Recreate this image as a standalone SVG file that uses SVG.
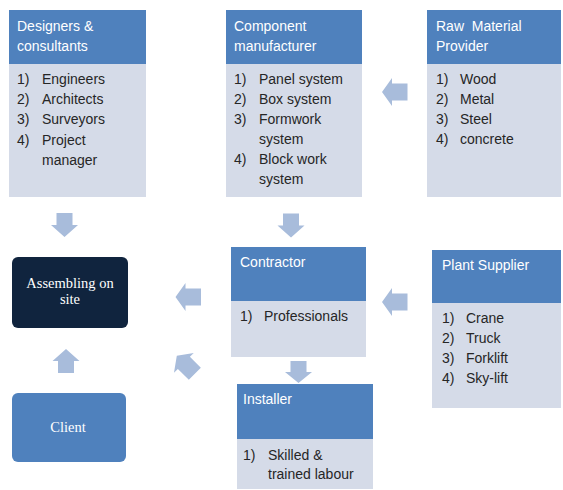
<svg xmlns="http://www.w3.org/2000/svg" width="563" height="490" viewBox="0 0 563 490">
<style>
.hd{fill:#4f81bd}
.bd{fill:#d5dbe8}
.ht{font-family:"Liberation Sans",Arial,sans-serif;font-size:14px;fill:#ffffff}
.it{font-family:"Liberation Sans",Arial,sans-serif;font-size:14px;fill:#262626}
.st{font-family:"Liberation Serif","Times New Roman",serif;font-size:14.5px;fill:#ffffff;text-anchor:middle}
.ar{fill:#a8bcdb}
</style>
<defs>
<path id="down" d="M-8,-12 H8 V0 H13.5 L0,12 L-13.5,0 H-8 Z"/>
<path id="left" d="M12.5,-8.5 V8.5 H-3 V14 L-13,0 L-3,-14 V-8.5 Z"/>
</defs>
<rect width="563" height="490" fill="#ffffff"/>
<g id="designers">
<rect class="bd" x="9" y="10" width="137" height="187"/>
<rect class="hd" x="9" y="10" width="137" height="54"/>
<text class="ht" x="17" y="31">Designers &amp;</text>
<text class="ht" x="17" y="51">consultants</text>
<text class="it" x="17" y="84">1)</text><text class="it" x="42" y="84">Engineers</text>
<text class="it" x="17" y="104">2)</text><text class="it" x="42" y="104">Architects</text>
<text class="it" x="17" y="124">3)</text><text class="it" x="42" y="124">Surveyors</text>
<text class="it" x="17" y="145">4)</text><text class="it" x="42" y="145">Project</text>
<text class="it" x="42" y="165">manager</text>
</g>
<g id="component">
<rect class="bd" x="226" y="10" width="136" height="187"/>
<rect class="hd" x="226" y="10" width="136" height="54"/>
<text class="ht" x="234" y="31">Component</text>
<text class="ht" x="234" y="51">manufacturer</text>
<text class="it" x="234" y="84">1)</text><text class="it" x="259" y="84">Panel system</text>
<text class="it" x="234" y="104">2)</text><text class="it" x="259" y="104">Box system</text>
<text class="it" x="234" y="124">3)</text><text class="it" x="259" y="124">Formwork</text>
<text class="it" x="259" y="144">system</text>
<text class="it" x="234" y="164">4)</text><text class="it" x="259" y="164">Block work</text>
<text class="it" x="259" y="184">system</text>
</g>
<g id="raw">
<rect class="bd" x="427" y="10" width="134" height="187"/>
<rect class="hd" x="427" y="10" width="134" height="54"/>
<text class="ht" x="436" y="31" style="white-space:pre">Raw  Material</text>
<text class="ht" x="436" y="51">Provider</text>
<text class="it" x="436" y="84">1)</text><text class="it" x="460" y="84">Wood</text>
<text class="it" x="436" y="104">2)</text><text class="it" x="460" y="104">Metal</text>
<text class="it" x="436" y="124">3)</text><text class="it" x="460" y="124">Steel</text>
<text class="it" x="436" y="144">4)</text><text class="it" x="460" y="144">concrete</text>
</g>
<g id="assembling">
<rect x="12" y="257" width="116" height="71" rx="6" fill="#10243e"/>
<text class="st" x="70" y="288">Assembling on</text>
<text class="st" x="70" y="304">site</text>
</g>
<g id="client">
<rect x="12" y="393" width="114" height="69" rx="6" fill="#4f81bd"/>
<text class="st" x="68" y="432">Client</text>
</g>
<g id="contractor">
<rect class="bd" x="231" y="247" width="135" height="110"/>
<rect class="hd" x="231" y="247" width="135" height="54"/>
<text class="ht" x="240" y="267">Contractor</text>
<text class="it" x="240" y="321">1)</text><text class="it" x="264" y="321">Professionals</text>
</g>
<g id="installer">
<rect class="bd" x="237" y="384" width="136" height="105"/>
<rect class="hd" x="237" y="384" width="136" height="55"/>
<text class="ht" x="243" y="404">Installer</text>
<text class="it" x="243" y="460">1)</text><text class="it" x="268" y="460">Skilled &amp;</text>
<text class="it" x="268" y="479">trained labour</text>
</g>
<g id="plant">
<rect class="bd" x="432" y="250" width="129" height="158"/>
<rect class="hd" x="432" y="250" width="129" height="53"/>
<text class="ht" x="442" y="270">Plant Supplier</text>
<text class="it" x="442" y="323">1)</text><text class="it" x="466" y="323">Crane</text>
<text class="it" x="442" y="343">2)</text><text class="it" x="466" y="343">Truck</text>
<text class="it" x="442" y="363">3)</text><text class="it" x="466" y="363">Forklift</text>
<text class="it" x="442" y="383">4)</text><text class="it" x="466" y="383">Sky-lift</text>
</g>
<g id="connectors" class="ar">
<use href="#left" x="395" y="92"/>
<use href="#down" x="64.5" y="225"/>
<use href="#down" x="291" y="225.5"/>
<use href="#left" x="395" y="302"/>
<use href="#left" x="188.5" y="297"/>
<use href="#down" transform="translate(66,361) rotate(180)"/>
<use href="#down" transform="translate(298.5,372) scale(1,0.92)"/>
<use href="#left" transform="translate(186,365) rotate(45)"/>
</g>
</svg>
